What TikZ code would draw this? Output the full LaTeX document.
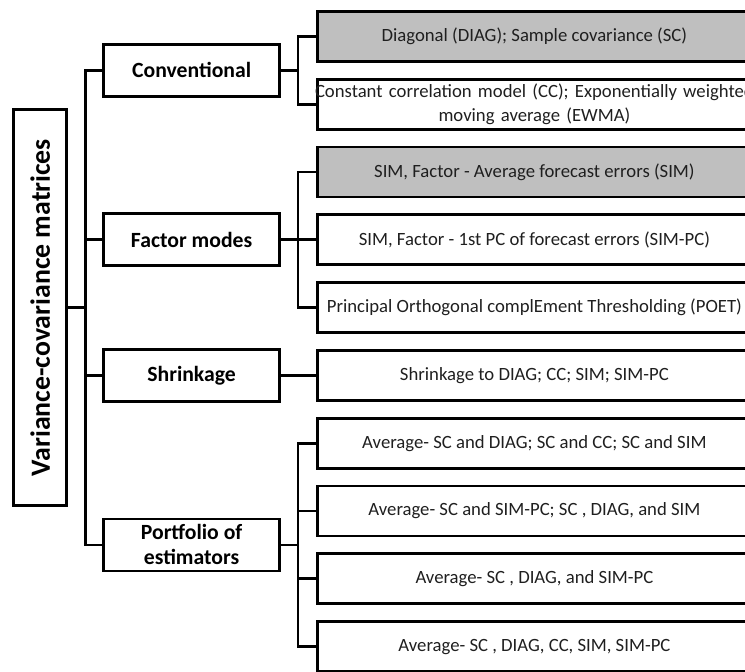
\documentclass[tikz,border=0pt]{standalone}
\usepackage{fontspec}
\setmainfont{Carlito}
\usepackage{graphicx}
\usetikzlibrary{positioning, calc}
\definecolor{boxgray}{RGB}{191,191,191}

\begin{document}
\begin{tikzpicture}[
    node distance=15pt,
    root/.style={draw, line width=2.8pt, minimum width=53pt, minimum height=396pt, inner sep=0pt, font=\fontsize{27.8}{32}\selectfont\bfseries},
    cat/.style={draw, line width=2.8pt, minimum width=176pt, minimum height=52pt, inner sep=0pt, align=center, font=\fontsize{21.7}{25}\selectfont\bfseries},
    item/.style={draw, line width=2.8pt, minimum width=434pt, minimum height=50pt, inner sep=0pt, align=center, text=black!88, font=\fontsize{18.7}{23.5}\selectfont},
    itemg/.style={item, fill=boxgray},
    ln/.style={line width=2.8pt}
]
% page frame, the right column runs off the page
\useasboundingbox (0,0) rectangle (745pt,-672pt);
\clip (0,0) rectangle (745pt,-672pt);
% Right column: estimators
\node[itemg, anchor=north west] (r1) at (316pt,-10pt) {Diagonal (DIAG); Sample covariance (SC)};
\node[item, below=of r1, text width=430pt] (r2) {\makebox[0pt][c]{Constant correlation model (CC); Exponentially weighted}\\moving average (EWMA)};
\node[itemg, below=of r2] (r3) {SIM, Factor - Average forecast errors (SIM)};
\node[item, below=of r3] (r4) {SIM, Factor - 1st PC of forecast errors (SIM-PC)};
\node[item, below=of r4] (r5) {Principal Orthogonal complEment Thresholding (POET)};
\node[item, below=of r5] (r6) {Shrinkage to DIAG; CC; SIM; SIM-PC};
\node[item, below=of r6] (r7) {Average- SC and DIAG; SC and CC; SC and SIM};
\node[item, below=of r7] (r8) {Average- SC and SIM-PC; SC , DIAG, and SIM};
\node[item, below=of r8] (r9) {Average- SC , DIAG, and SIM-PC};
\node[item, below=of r9] (r10) {Average- SC , DIAG, CC, SIM, SIM-PC};
% Middle column: groups
\coordinate (m1) at ($(r1.west)!.5!(r2.west)$);
\coordinate (m4) at ($(r8.west)!.5!(r9.west)$);
\node[cat, left=35pt of m1] (conv) {Conventional};
\node[cat, left=35pt of r4] (fac) {Factor modes};
\node[cat, left=35pt of r6] (shr) {Shrinkage};
\node[cat, left=35pt of m4] (port) {Portfolio of\\estimators};
% Left: root
\coordinate (m0) at ($(fac.west)!.5!(shr.west)$);
\node[root, left=34pt of m0] (root) {\rotatebox{90}{Variance-covariance matrices}};
% root -> groups
\draw[ln] (root.east) -- ++(17pt,0) coordinate (j0);
\draw[ln] (conv.west) -| (j0) |- (port.west);
\draw[ln] (fac.west) -- (fac.west -| j0);
\draw[ln] (shr.west) -- (shr.west -| j0);
% groups -> estimators
\draw[ln] (conv.east) -- ++(17pt,0) coordinate (j1);
\draw[ln] (r1.west) -| (j1) |- (r2.west);
\draw[ln] (fac.east) -- ++(17pt,0) coordinate (j2);
\draw[ln] (r3.west) -| (j2) |- (r5.west);
\draw[ln] (j2) -- (r4.west);
\draw[ln] (shr) -- (r6);
\draw[ln] (port.east) -- ++(17pt,0) coordinate (j4);
\draw[ln] (r7.west) -| (j4) |- (r10.west);
\draw[ln] (r8.west -| j4) -- (r8.west);
\draw[ln] (r9.west -| j4) -- (r9.west);
\end{tikzpicture}
\end{document}
